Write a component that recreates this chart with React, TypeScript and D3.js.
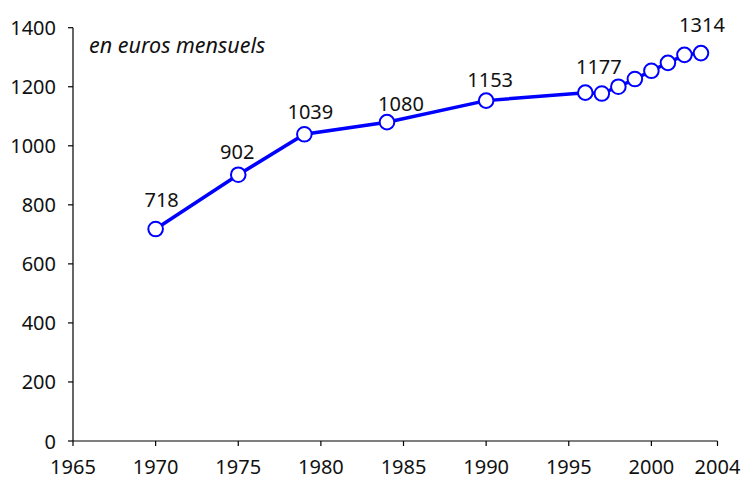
import React from "react";
import * as d3 from "d3";

const years = [1970, 1975, 1979, 1984, 1990, 1996, 1997, 1998, 1999, 2000, 2001, 2002, 2003];
const values = [718, 902, 1039, 1080, 1153, 1180, 1177, 1200, 1226, 1254, 1281, 1308, 1314];
const labelledYears = [1970, 1975, 1979, 1984, 1990, 1997, 2003];
const xTicks = [1965, 1970, 1975, 1980, 1985, 1990, 1995, 2000, 2004];
const yTicks = [0, 200, 400, 600, 800, 1000, 1200, 1400];
const unitLabel = "en euros mensuels";

// label nudges (styling only), in px: [dx, dy from point centre to baseline]
const labelNudge: Record<number, [number, number]> = {
  1970: [6, -22],
  1975: [-1, -16],
  1979: [6, -15],
  1984: [14, -11],
  1990: [4, -14],
  1997: [-3, -20],
  2003: [1, -21],
};

const W = 744;
const H = 480;
const FONT = "'Noto Sans', sans-serif";

export default function App() {
  const x = d3.scaleLinear().domain([1965, 2004]).range([73, 717.5]);
  const y = d3.scaleLinear().domain([0, 1400]).range([441, 27.7]);
  const data = years.map((yr, i) => ({ yr, v: values[i] }));
  const line = d3
    .line<{ yr: number; v: number }>()
    .x((d) => x(d.yr))
    .y((d) => y(d.v));

  return (
    <svg
      width={W}
      height={H}
      style={{ position: "absolute", left: 0, top: 0, background: "#fff" }}
      fontFamily={FONT}
    >
      {/* axes */}
      <line x1={x(1965)} x2={x(1965)} y1={y(0)} y2={y(1400)} stroke="#000" strokeWidth={1.2} />
      <line x1={x(1965)} x2={x(2004)} y1={y(0)} y2={y(0)} stroke="#000" strokeWidth={1.2} />
      {yTicks.map((t) => (
        <g key={"y" + t}>
          <line x1={x(1965) - 5} x2={x(1965)} y1={y(t)} y2={y(t)} stroke="#000" strokeWidth={1.2} />
          <text
            x={56}
            y={y(t)}
            textAnchor="end"
            dominantBaseline="central"
            fontSize={20}
            fill="#111"
          >
            {t}
          </text>
        </g>
      ))}
      {xTicks.map((t) => (
        <g key={"x" + t}>
          <line x1={x(t)} x2={x(t)} y1={y(0)} y2={y(0) + 5} stroke="#000" strokeWidth={1.2} />
          <text x={x(t)} y={474} textAnchor="middle" fontSize={20} fill="#111">
            {t}
          </text>
        </g>
      ))}
      <text x={89} y={53} fontSize={21.5} fontStyle="italic" fill="#111">
        {unitLabel}
      </text>
      {/* series */}
      <path d={line(data) || ""} fill="none" stroke="#0000ff" strokeWidth={3.5} />
      {data.map((d) => (
        <circle
          key={"c" + d.yr}
          cx={x(d.yr)}
          cy={y(d.v)}
          r={7.3}
          fill="#fff"
          stroke="#0000ff"
          strokeWidth={2}
        />
      ))}
      {data
        .filter((d) => labelledYears.includes(d.yr))
        .map((d) => {
          const [dx, dy] = labelNudge[d.yr] || [0, -16];
          return (
            <text
              key={"l" + d.yr}
              x={x(d.yr) + dx}
              y={y(d.v) + dy}
              textAnchor="middle"
              fontSize={20}
              fill="#111"
            >
              {d.v}
            </text>
          );
        })}
    </svg>
  );
}
